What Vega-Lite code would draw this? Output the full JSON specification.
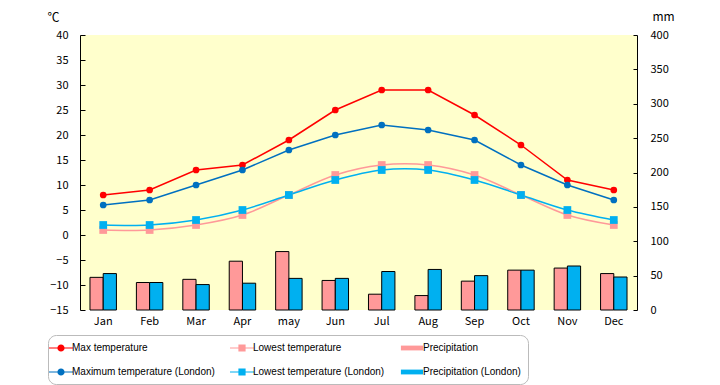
{
  "$schema": "https://vega.github.io/schema/vega-lite/v6.json",
  "width": 557,
  "height": 275,
  "autosize": {"type": "none"},
  "padding": {"left": 80, "top": 35, "right": 83, "bottom": 75},
  "background": "white",
  "config": {
    "view": {"fill": "#FFFFCC", "stroke": null},
    "font": "Noto Sans CJK JP",
    "axis": {"labelFont": "Noto Sans CJK JP", "labelFontSize": 11, "labelColor": "black", "domainColor": "black", "tickColor": "black", "grid": false, "titleFont": "Noto Sans CJK JP", "titleFontSize": 12, "titleFontWeight": "normal"}
  },
  "datasets": {
    "temp": [
      {"month": "Jan", "series": "Max temperature", "value": 8},
      {"month": "Feb", "series": "Max temperature", "value": 9},
      {"month": "Mar", "series": "Max temperature", "value": 13},
      {"month": "Apr", "series": "Max temperature", "value": 14},
      {"month": "may", "series": "Max temperature", "value": 19},
      {"month": "Jun", "series": "Max temperature", "value": 25},
      {"month": "Jul", "series": "Max temperature", "value": 29},
      {"month": "Aug", "series": "Max temperature", "value": 29},
      {"month": "Sep", "series": "Max temperature", "value": 24},
      {"month": "Oct", "series": "Max temperature", "value": 18},
      {"month": "Nov", "series": "Max temperature", "value": 11},
      {"month": "Dec", "series": "Max temperature", "value": 9},
      {"month": "Jan", "series": "Maximum temperature (London)", "value": 6},
      {"month": "Feb", "series": "Maximum temperature (London)", "value": 7},
      {"month": "Mar", "series": "Maximum temperature (London)", "value": 10},
      {"month": "Apr", "series": "Maximum temperature (London)", "value": 13},
      {"month": "may", "series": "Maximum temperature (London)", "value": 17},
      {"month": "Jun", "series": "Maximum temperature (London)", "value": 20},
      {"month": "Jul", "series": "Maximum temperature (London)", "value": 22},
      {"month": "Aug", "series": "Maximum temperature (London)", "value": 21},
      {"month": "Sep", "series": "Maximum temperature (London)", "value": 19},
      {"month": "Oct", "series": "Maximum temperature (London)", "value": 14},
      {"month": "Nov", "series": "Maximum temperature (London)", "value": 10},
      {"month": "Dec", "series": "Maximum temperature (London)", "value": 7},
      {"month": "Jan", "series": "Lowest temperature", "value": 1},
      {"month": "Feb", "series": "Lowest temperature", "value": 1},
      {"month": "Mar", "series": "Lowest temperature", "value": 2},
      {"month": "Apr", "series": "Lowest temperature", "value": 4},
      {"month": "may", "series": "Lowest temperature", "value": 8},
      {"month": "Jun", "series": "Lowest temperature", "value": 12},
      {"month": "Jul", "series": "Lowest temperature", "value": 14},
      {"month": "Aug", "series": "Lowest temperature", "value": 14},
      {"month": "Sep", "series": "Lowest temperature", "value": 12},
      {"month": "Oct", "series": "Lowest temperature", "value": 8},
      {"month": "Nov", "series": "Lowest temperature", "value": 4},
      {"month": "Dec", "series": "Lowest temperature", "value": 2},
      {"month": "Jan", "series": "Lowest temperature (London)", "value": 2},
      {"month": "Feb", "series": "Lowest temperature (London)", "value": 2},
      {"month": "Mar", "series": "Lowest temperature (London)", "value": 3},
      {"month": "Apr", "series": "Lowest temperature (London)", "value": 5},
      {"month": "may", "series": "Lowest temperature (London)", "value": 8},
      {"month": "Jun", "series": "Lowest temperature (London)", "value": 11},
      {"month": "Jul", "series": "Lowest temperature (London)", "value": 13},
      {"month": "Aug", "series": "Lowest temperature (London)", "value": 13},
      {"month": "Sep", "series": "Lowest temperature (London)", "value": 11},
      {"month": "Oct", "series": "Lowest temperature (London)", "value": 8},
      {"month": "Nov", "series": "Lowest temperature (London)", "value": 5},
      {"month": "Dec", "series": "Lowest temperature (London)", "value": 3}
    ],
    "precip": [
      {"month": "Jan", "series": "Precipitation", "value": 47.5},
      {"month": "Feb", "series": "Precipitation", "value": 40},
      {"month": "Mar", "series": "Precipitation", "value": 44.6},
      {"month": "Apr", "series": "Precipitation", "value": 71},
      {"month": "may", "series": "Precipitation", "value": 85},
      {"month": "Jun", "series": "Precipitation", "value": 43},
      {"month": "Jul", "series": "Precipitation", "value": 23},
      {"month": "Aug", "series": "Precipitation", "value": 21},
      {"month": "Sep", "series": "Precipitation", "value": 42},
      {"month": "Oct", "series": "Precipitation", "value": 58},
      {"month": "Nov", "series": "Precipitation", "value": 61},
      {"month": "Dec", "series": "Precipitation", "value": 53},
      {"month": "Jan", "series": "Precipitation (London)", "value": 53},
      {"month": "Feb", "series": "Precipitation (London)", "value": 40},
      {"month": "Mar", "series": "Precipitation (London)", "value": 37},
      {"month": "Apr", "series": "Precipitation (London)", "value": 39},
      {"month": "may", "series": "Precipitation (London)", "value": 46},
      {"month": "Jun", "series": "Precipitation (London)", "value": 46},
      {"month": "Jul", "series": "Precipitation (London)", "value": 56},
      {"month": "Aug", "series": "Precipitation (London)", "value": 59},
      {"month": "Sep", "series": "Precipitation (London)", "value": 50},
      {"month": "Oct", "series": "Precipitation (London)", "value": 58},
      {"month": "Nov", "series": "Precipitation (London)", "value": 64},
      {"month": "Dec", "series": "Precipitation (London)", "value": 48}
    ]
  },
  "layer": [
    {
      "data": {"name": "precip"},
      "mark": {"type": "bar", "stroke": "black", "strokeWidth": 1, "opacity": 1},
      "encoding": {
        "x": {"field": "month", "type": "nominal", "sort": ["Jan", "Feb", "Mar", "Apr", "may", "Jun", "Jul", "Aug", "Sep", "Oct", "Nov", "Dec"], "scale": {"paddingInner": 0.43, "paddingOuter": 0.215}, "axis": {"title": null, "labelAngle": 0, "domain": false, "ticks": false, "labelPadding": 5}},
        "xOffset": {"field": "series", "type": "nominal", "sort": ["Precipitation", "Precipitation (London)"], "scale": {"paddingInner": 0, "paddingOuter": 0}},
        "y": {"field": "value", "type": "quantitative", "scale": {"domain": [0, 400], "nice": false}, "axis": {"orient": "right", "values": [0, 50, 100, 150, 200, 250, 300, 350, 400], "tickSize": -4, "labelPadding": 17, "title": "mm", "titleAngle": 0, "titleX": 26, "titleY": -19, "titleAlign": "center", "titleBaseline": "middle"}},
        "color": {
          "field": "series", "type": "nominal",
          "scale": {
            "domain": ["Max temperature", "Maximum temperature (London)", "Lowest temperature", "Lowest temperature (London)", "Precipitation", "Precipitation (London)"],
            "range": ["#FF0000", "#0070C0", "#FF9999", "#00B0F0", "#FF9999", "#00B0F0"]
          },
          "legend": null
        }
      }
    },
    {
      "data": {"name": "temp"},
      "encoding": {
        "x": {"field": "month", "type": "nominal", "sort": ["Jan", "Feb", "Mar", "Apr", "may", "Jun", "Jul", "Aug", "Sep", "Oct", "Nov", "Dec"]},
        "y": {"field": "value", "type": "quantitative", "scale": {"domain": [-15, 40], "nice": false}, "axis": {"orient": "left", "values": [-15, -10, -5, 0, 5, 10, 15, 20, 25, 30, 35, 40], "tickSize": -5, "labelPadding": 17, "title": "℃", "titleAngle": 0, "titleX": -27, "titleY": -18, "titleAlign": "center", "titleBaseline": "middle"}},
        "color": {"field": "series", "type": "nominal", "legend": null}
      },
      "layer": [
        {"transform": [{"filter": "indexof(datum.series, 'Max') === 0"}], "mark": {"type": "line", "strokeWidth": 1.5}},
        {"transform": [{"filter": "indexof(datum.series, 'Lowest') === 0"}], "mark": {"type": "line", "strokeWidth": 1.5, "interpolate": "cardinal", "tension": 0}},
        {"transform": [{"filter": "indexof(datum.series, 'Max') === 0"}], "mark": {"type": "point", "shape": "circle", "filled": true, "size": 45, "opacity": 1}},
        {"transform": [{"filter": "indexof(datum.series, 'Lowest') === 0"}], "mark": {"type": "point", "shape": "square", "filled": true, "size": 60, "opacity": 1}},
        {
          "mark": {"type": "point", "filled": true, "opacity": 0, "size": 1},
          "encoding": {
            "color": {
              "field": "series", "type": "nominal",
              "legend": {
                "orient": "none", "legendX": -32, "legendY": 300, "columns": 3, "columnPadding": 15, "rowPadding": 13,
                "title": null, "symbolSize": 144, "symbolOpacity": 1, "symbolStrokeWidth": 0, "labelFontSize": 10, "labelFont": "Liberation Sans", "labelOffset": 5, "labelLimit": 400,
                "strokeColor": "#BBBBBB", "cornerRadius": 8, "padding": 7,
                "labelExpr": "indexof(datum.label, 'Precipitation') === 0 ? datum.label + '\u2003\u2003\u2003\u2003\u2003\u2003\u2003\u2003\u2003\u2003\u2003\u2003\u2003\u2003\u2003' : datum.label"
              }
            },
            "shape": {
              "field": "series", "type": "nominal",
              "scale": {
                "domain": ["Max temperature", "Maximum temperature (London)", "Lowest temperature", "Lowest temperature (London)", "Precipitation", "Precipitation (London)"],
                "range": [
                  "M-2,-0.1H-0.55V0.1H-2Z M0.55,-0.1H2V0.1H0.55Z M-0.6,0A0.6,0.6,0,1,1,0.6,0A0.6,0.6,0,1,1,-0.6,0Z",
                  "M-2,-0.1H-0.55V0.1H-2Z M0.55,-0.1H2V0.1H0.55Z M-0.6,0A0.6,0.6,0,1,1,0.6,0A0.6,0.6,0,1,1,-0.6,0Z",
                  "M-2,-0.1H-0.55V0.1H-2Z M0.55,-0.1H2V0.1H0.55Z M-0.6,-0.6H0.6V0.6H-0.6Z",
                  "M-2,-0.1H-0.55V0.1H-2Z M0.55,-0.1H2V0.1H0.55Z M-0.6,-0.6H0.6V0.6H-0.6Z",
                  "M-1.85,-0.4H1.85V0.4H-1.85Z",
                  "M-1.85,-0.4H1.85V0.4H-1.85Z"
                ]
              },
              "legend": {
                "orient": "none", "legendX": -32, "legendY": 300, "columns": 3, "columnPadding": 15, "rowPadding": 13,
                "title": null, "symbolSize": 144, "symbolOpacity": 1, "symbolStrokeWidth": 0, "labelFontSize": 10, "labelFont": "Liberation Sans", "labelOffset": 5, "labelLimit": 400,
                "strokeColor": "#BBBBBB", "cornerRadius": 8, "padding": 7,
                "labelExpr": "indexof(datum.label, 'Precipitation') === 0 ? datum.label + '\u2003\u2003\u2003\u2003\u2003\u2003\u2003\u2003\u2003\u2003\u2003\u2003\u2003\u2003\u2003' : datum.label"
              }
            }
          }
        },
        {"data": {"values": [{}]}, "mark": {"type": "rule", "color": "black", "strokeWidth": 1}, "encoding": {"x": null, "color": null, "y": {"datum": 0, "type": "quantitative"}}}
      ],
      "resolve": {"legend": {"color": "independent", "shape": "independent"}}
    }
  ],
  "resolve": {"scale": {"y": "independent"}, "legend": {"color": "independent", "shape": "independent"}}
}
